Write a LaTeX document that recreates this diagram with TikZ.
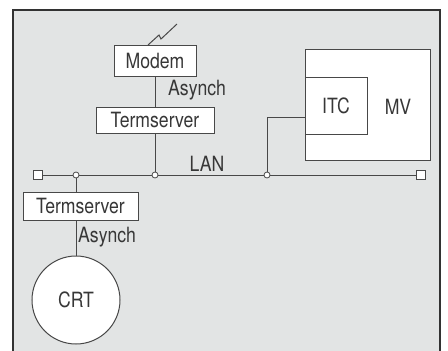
\documentclass[tikz,border=0pt]{standalone}
\usepackage{fontspec}
\setmainfont[FakeStretch=0.84]{TeX Gyre Heros}
\usetikzlibrary{positioning}
\definecolor{panel}{RGB}{226,228,228}
\definecolor{ink}{RGB}{72,72,72}
\definecolor{txt}{RGB}{55,55,55}
\definecolor{rule}{RGB}{50,50,50}
\begin{document}
\begin{tikzpicture}[x=1pt, y=-1pt,
  box/.style={draw=ink, fill=white, line width=1pt, inner sep=0pt, font=\fontsize{21}{21}\selectfont, text=txt},
  lbl/.style={font=\fontsize{21}{21}\selectfont, text=txt, inner sep=0pt},
  wire/.style={draw=ink, line width=1pt},
  tap/.style={circle, draw=ink, fill=white, line width=0.8pt, minimum size=6pt, inner sep=0pt},
  term/.style={rectangle, draw=ink, fill=white, line width=0.8pt, minimum size=9pt, inner sep=0pt}
]
  \useasboundingbox (0,0) rectangle (448,351);
  % ── Frame ──
  \fill[white] (0,0) rectangle (448,351);
  \fill[panel] (13,10) rectangle (440,351);
  \draw[rule, line width=2pt] (13,351) -- (13,10) -- (440,10) -- (440,351);

  % ── Remote side (top) ──
  \node[box, minimum width=82pt, minimum height=31pt] (modem) at (155,61) {Modem};
  \node[box, minimum width=118pt, minimum height=26pt] (tsA) at (155,120) {Termserver};
  \node[lbl, anchor=west] (asyA) at (168,90) {Asynch};
  \draw[wire, line join=miter] (modem.north) ++(-7,0) -- ++(11,-10) -- ++(2,4) -- ++(16,-15);
  \draw[wire] (modem) -- (tsA);

  % ── LAN ──
  \node[term] (endL) at (38,175) {};
  \node[term] (endR) at (421,175) {};
  \node[tap] (j1) at (76,175) {};
  \node[tap] (j2) at (155,175) {};
  \node[tap] (j3) at (267,175) {};
  \node[lbl] (lan) at (207,164) {LAN};
  \draw[wire] (endL) -- (j1) -- (j2) -- (j3) -- (endR);
  \draw[wire] (tsA) -- (j2);

  % ── Host (right) ──
  \node[box, minimum width=125pt, minimum height=111pt] (mv) at (367.5,104.5) {};
  \node[lbl] (mvl) at (398,107) {MV};
  \node[box, minimum width=62pt, minimum height=57pt] (itc) at (336,105.5) {ITC};
  \coordinate (itcin) at (305,117);
  \draw[wire] (j3) |- (itcin);

  % ── Local terminal (bottom) ──
  \node[box, minimum width=115pt, minimum height=28pt] (tsB) at (80.5,206) {Termserver};
  \node[box, circle, minimum size=88pt] (crt) at (76,300) {CRT};
  \node[lbl, anchor=west] (asyB) at (78,237) {Asynch};
  \draw[wire] (j1) -- (j1 |- tsB.north);
  \draw[wire] (j1 |- tsB.south) -- (crt);
\end{tikzpicture}
\end{document}
